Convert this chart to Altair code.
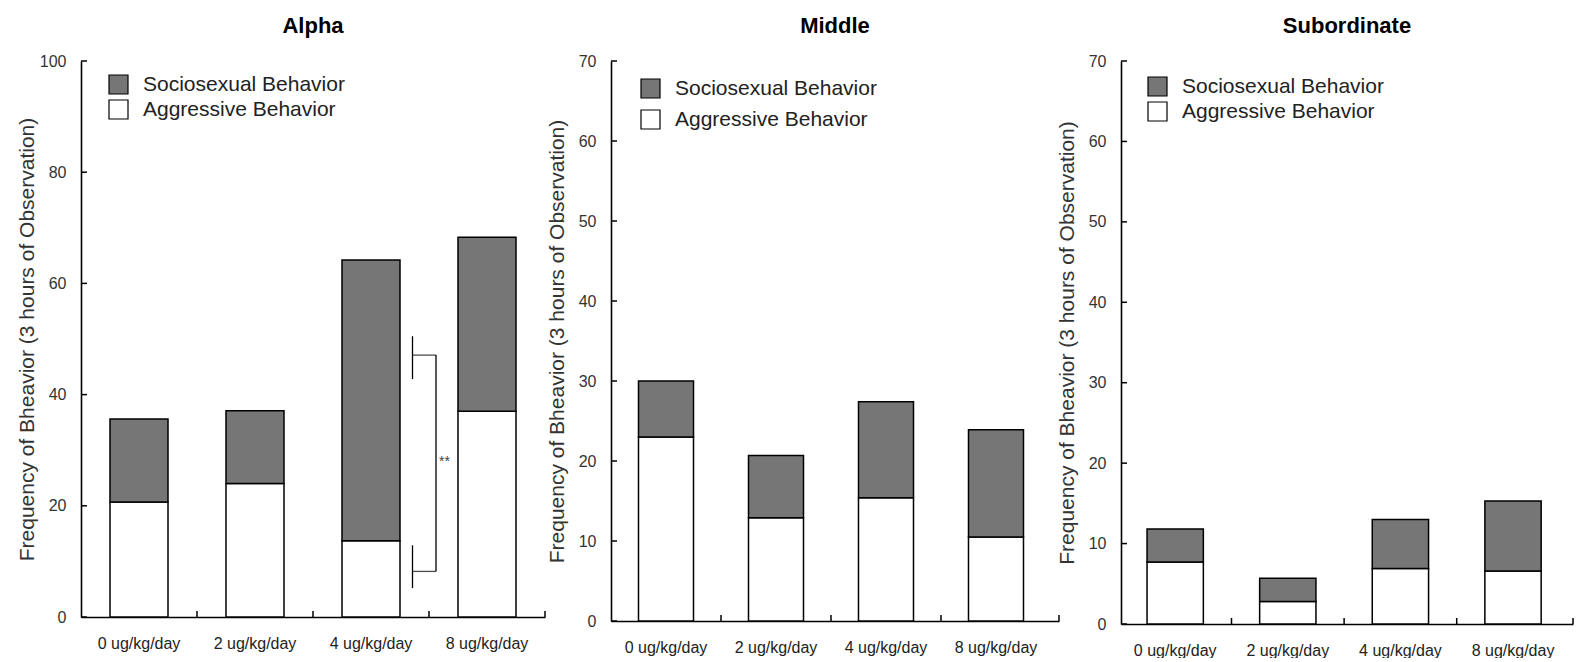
import altair as alt
import pandas as pd

FONT = "Liberation Sans, Arial, sans-serif"
GRAY = "#767676"

doses = ["0 ug/kg/day", "2 ug/kg/day", "4 ug/kg/day", "8 ug/kg/day"]
series = ["Sociosexual Behavior", "Aggressive Behavior"]
y_title = "Frequency of Bheavior (3 hours of Observation)"

alpha_aggressive = [20.7, 24.0, 13.7, 37.0]
alpha_sociosexual = [14.9, 13.1, 50.5, 31.3]
middle_aggressive = [23.0, 12.9, 15.4, 10.5]
middle_sociosexual = [7.0, 7.8, 12.0, 13.4]
sub_aggressive = [7.7, 2.8, 6.9, 6.6]
sub_sociosexual = [4.1, 2.9, 6.1, 8.7]

alpha_ticks = [0, 20, 40, 60, 80, 100]
other_ticks = [0, 10, 20, 30, 40, 50, 60, 70]

# significance bracket between 4 and 8 ug/kg/day (Alpha)
bracket_dose = "4 ug/kg/day"
bracket_levels = [47.1, 8.2]
bracket_caps_lo = [42.8, 5.2]
bracket_caps_hi = [50.5, 12.9]
star_level = 27.8
star_text = "**"


def make_panel(title, agg, soc, ymax, yticks, width, height, pad_outer, align, step,
               legend_x, legend_y, row_pad, bracket=False):
    df = pd.DataFrame({
        "dose": doses * 2,
        "behavior": [series[1]] * 4 + [series[0]] * 4,
        "value": agg + soc,
        "order": [0] * 4 + [1] * 4,
    })
    xscale = alt.Scale(domain=doses, paddingInner=0.5, paddingOuter=pad_outer, align=align)
    xaxis = alt.Axis(title=None, labelAngle=0, labelFontSize=16, labelPadding=18, ticks=False,
                     domainColor="black", domainWidth=1.6, labelColor="#222", labelFont=FONT)
    yscale = alt.Scale(domain=[0, ymax], nice=False, zero=True)
    yaxis = alt.Axis(title=y_title, values=yticks, ticks=False, labelFontSize=16, labelPadding=15,
                     labelColor="#333", labelFont=FONT, domainColor="black", domainWidth=1.6,
                     titleFontSize=21, titleFontWeight="normal", titleColor="#333", titleFont=FONT,
                     titleX=-54, titleY=height / 2, titleBaseline="middle", titleAlign="center",
                     grid=False)

    def X(field="dose"):
        return alt.X(f"{field}:N", sort=doses, scale=xscale, axis=xaxis)

    def Y(field):
        return alt.Y(f"{field}:Q", scale=yscale, axis=yaxis)

    bars = alt.Chart(df).mark_bar(stroke="black", strokeWidth=1.5).encode(
        x=X(),
        y=alt.Y("value:Q", stack="zero", scale=yscale, axis=yaxis),
        color=alt.Color("behavior:N", scale=alt.Scale(domain=series, range=[GRAY, "white"]),
                        legend=alt.Legend(orient="none", legendX=legend_x, legendY=legend_y,
                                          title=None, symbolType="square", symbolSize=361,
                                          symbolStrokeColor="black", symbolStrokeWidth=1.2,
                                          labelFontSize=21, labelFont=FONT, labelColor="#222",
                                          labelOffset=14, rowPadding=row_pad, padding=0,
                                          labelLimit=400)),
        order=alt.Order("order:Q"),
    )

    ytick_df = pd.DataFrame({"tick": yticks})
    yt = alt.Chart(ytick_df).mark_rule(color="black", strokeWidth=1.5).encode(
        y=Y("tick"), x=alt.value(0), x2=alt.value(6)
    )
    xtick_df = pd.DataFrame({"dose": doses[:3]})
    xt = alt.Chart(xtick_df).mark_rule(color="black", strokeWidth=1.5, xOffset=step / 2).encode(
        x=X(), y=alt.value(height), y2=alt.value(height - 6)
    )
    end_df = pd.DataFrame({"end": [1]})
    xt_end = alt.Chart(end_df).mark_rule(color="black", strokeWidth=1.5).encode(
        x=alt.value(width), y=alt.value(height), y2=alt.value(height - 6)
    )
    layers = [bars, yt, xt, xt_end]

    if bracket:
        main_df = pd.DataFrame({"dose": [bracket_dose], "lo": [bracket_levels[1]],
                                "hi": [bracket_levels[0]]})
        main = alt.Chart(main_df).mark_rule(color="black", strokeWidth=1.3, xOffset=65).encode(
            x=X(), y=Y("lo"), y2="hi:Q"
        )
        caps_df = pd.DataFrame({"dose": [bracket_dose] * 2, "lo": bracket_caps_lo,
                                "hi": bracket_caps_hi})
        caps = alt.Chart(caps_df).mark_rule(color="black", strokeWidth=1.3, xOffset=41.5).encode(
            x=X(), y=Y("lo"), y2="hi:Q"
        )
        hor_df = pd.DataFrame({"dose": [bracket_dose] * 2, "lvl": bracket_levels})
        hor = alt.Chart(hor_df).mark_tick(color="black", thickness=1.3, size=23.5,
                                          xOffset=53.25, orient="horizontal").encode(
            x=X(), y=Y("lvl")
        )
        star_df = pd.DataFrame({"dose": [bracket_dose], "lvl": [star_level], "t": [star_text]})
        star = alt.Chart(star_df).mark_text(xOffset=73.5, fontSize=14, color="#444",
                                            font=FONT).encode(
            x=X(), y=Y("lvl"), text="t:N"
        )
        layers += [main, caps, hor, star]

    return alt.layer(*layers).properties(
        width=width, height=height,
        title=alt.TitleParams(title, fontSize=22, fontWeight="bold", font=FONT, color="black",
                              anchor="middle", frame="group", offset=15),
    )


alpha = make_panel("Alpha", alpha_aggressive, alpha_sociosexual, 100, alpha_ticks,
                   464, 556, 0.25, 0.5, 116, 27, 13, 0, bracket=True)
middle = make_panel("Middle", middle_aggressive, middle_sociosexual, 70, other_ticks,
                    448, 560, 0.2864, 0.4365, 110, 29, 17, 6)
sub = make_panel("Subordinate", sub_aggressive, sub_sociosexual, 70, other_ticks,
                 452, 563, 0.257, 0.45, 112.6, 26, 15, 0)

left_pair = alt.hconcat(alpha, middle, spacing=0).resolve_scale(
    color="independent", x="independent", y="independent"
)

chart = alt.hconcat(left_pair, sub, spacing=-4).resolve_scale(
    color="independent", x="independent", y="independent"
).properties(
    padding={"left": 8, "top": 7, "right": 0, "bottom": 0}
).configure_view(stroke=None)

chart.save("out.html", embed_options={"renderer": "svg", "actions": False})
